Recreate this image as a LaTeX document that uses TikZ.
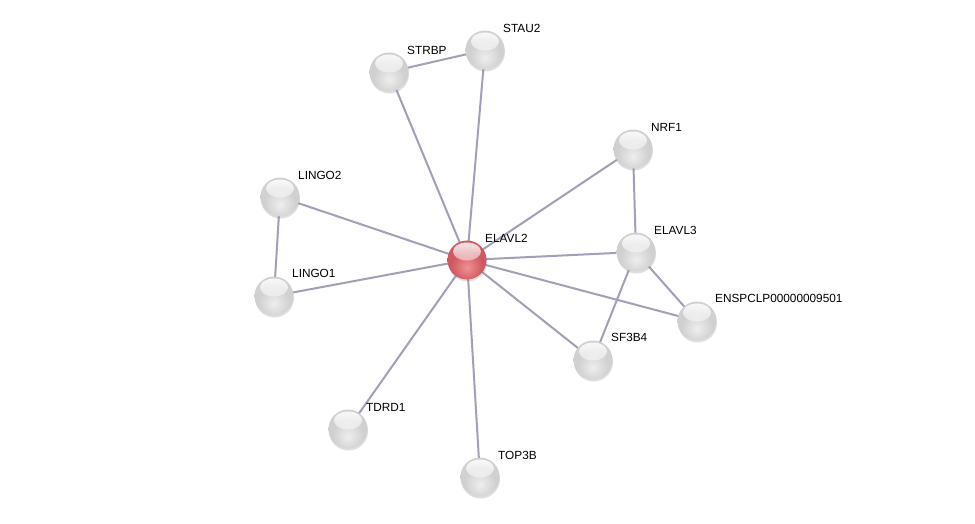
\documentclass[tikz,border=0pt]{standalone}
\usepackage{fontspec}
\setmainfont{Liberation Sans}
\usetikzlibrary{shadows,fadings}
\definecolor{edgecol}{RGB}{160,160,182}
\definecolor{gA}{RGB}{238,238,238}
\definecolor{gB}{RGB}{208,208,208}
\definecolor{gC}{RGB}{160,160,160}
\definecolor{rA}{RGB}{240,145,150}
\definecolor{rB}{RGB}{208,88,94}
\definecolor{rC}{RGB}{145,42,48}
\pgfdeclareradialshading{graysphere}{\pgfpoint{0bp}{-10bp}}{%
  color(0bp)=(gA);
  color(20bp)=(gB);
  color(42bp)=(gB);
  color(58bp)=(gC);
  color(100bp)=(gC)}
\pgfdeclareradialshading{redsphere}{\pgfpoint{0bp}{-10bp}}{%
  color(0bp)=(rA);
  color(20bp)=(rB);
  color(42bp)=(rB);
  color(58bp)=(rC);
  color(100bp)=(rC)}
\tikzset{
  gloss/.style={path picture={
    \fill[white,path fading=south,fill opacity=0.9] ([yshift=8.5pt]path picture bounding box.center) ellipse (14pt and 9pt);}},
  protein/.style={circle, minimum size=39pt, inner sep=0pt, shading=graysphere, draw=none, gloss,
    drop shadow={shadow xshift=0.5pt, shadow yshift=-2pt, opacity=0.25}},
  query/.style={protein, shading=redsphere},
  lbl/.style={anchor=base west, inner sep=0pt, font=\fontsize{11.8}{13}\selectfont},
  link/.style={draw=edgecol, line width=2pt},
}
\begin{document}
\begin{tikzpicture}[x=1pt,y=-1pt]
\useasboundingbox (0,0) rectangle (975,523);
\fill[white] (0,0) rectangle (975,523);
\coordinate (pELAVL2) at (467,260);
\coordinate (pSTRBP) at (389,72);
\coordinate (pSTAU2) at (485,50);
\coordinate (pNRF1) at (633,149);
\coordinate (pLINGO2) at (280,197);
\coordinate (pLINGO1) at (274,296);
\coordinate (pELAVL3) at (636,252);
\coordinate (pENSP) at (697,321);
\coordinate (pSF3B4) at (593,360);
\coordinate (pTDRD1) at (348,429);
\coordinate (pTOP3B) at (480,477);
\begin{scope}[link]
\draw (pELAVL2) -- (pSTRBP);
\draw (pELAVL2) -- (pSTAU2);
\draw (pELAVL2) -- (pNRF1);
\draw (pELAVL2) -- (pLINGO2);
\draw (pELAVL2) -- (pLINGO1);
\draw (pELAVL2) -- (pELAVL3);
\draw (pELAVL2) -- (pENSP);
\draw (pELAVL2) -- (pSF3B4);
\draw (pELAVL2) -- (pTDRD1);
\draw (pELAVL2) -- (pTOP3B);
\draw (pSTRBP) -- (pSTAU2);
\draw (pLINGO2) -- (pLINGO1);
\draw (pNRF1) -- (pELAVL3);
\draw (pELAVL3) -- (pENSP);
\draw (pELAVL3) -- (pSF3B4);
\end{scope}
\node[query] (ELAVL2) at (pELAVL2) {};
\node[protein] (STRBP) at (pSTRBP) {};
\node[protein] (STAU2) at (pSTAU2) {};
\node[protein] (NRF1) at (pNRF1) {};
\node[protein] (LINGO2) at (pLINGO2) {};
\node[protein] (LINGO1) at (pLINGO1) {};
\node[protein] (ELAVL3) at (pELAVL3) {};
\node[protein] (ENSP) at (pENSP) {};
\node[protein] (SF3B4) at (pSF3B4) {};
\node[protein] (TDRD1) at (pTDRD1) {};
\node[protein] (TOP3B) at (pTOP3B) {};
\node[lbl] (tELAVL2) at (485,242) {ELAVL2};
\node[lbl] (tSTRBP) at (407,54) {STRBP};
\node[lbl] (tSTAU2) at (503,32) {STAU2};
\node[lbl] (tNRF1) at (651,131) {NRF1};
\node[lbl] (tLINGO2) at (298,179) {LINGO2};
\node[lbl] (tLINGO1) at (292,277) {LINGO1};
\node[lbl] (tELAVL3) at (654,234) {ELAVL3};
\node[lbl] (tENSP) at (715,302) {ENSPCLP00000009501};
\node[lbl] (tSF3B4) at (611,341) {SF3B4};
\node[lbl] (tTDRD1) at (366,411) {TDRD1};
\node[lbl] (tTOP3B) at (498,459) {TOP3B};
\end{tikzpicture}
\end{document}
